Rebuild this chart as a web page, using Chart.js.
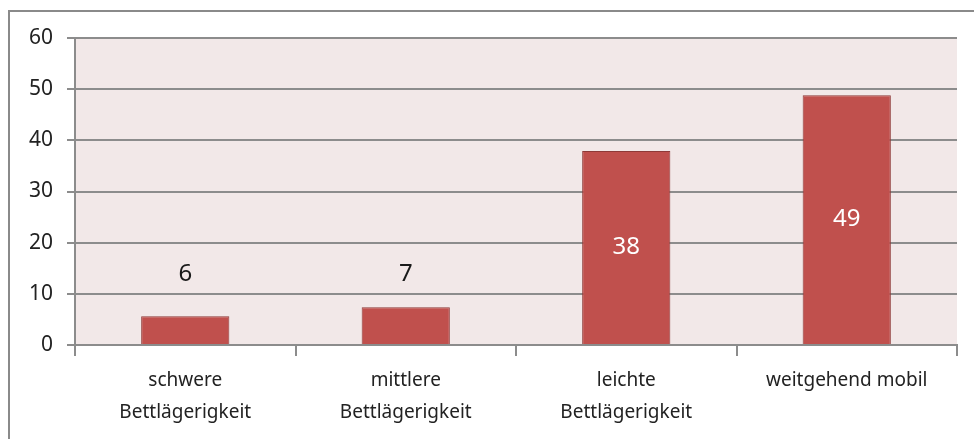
<!DOCTYPE html>
<html>
<head>
<meta charset="utf-8">
<script src="https://cdn.jsdelivr.net/npm/chart.js@4"></script>
<style>
  html, body { margin: 0; padding: 0; background: #fff; }
  .frame { position: absolute; left: 8px; top: 10px; width: 980px; height: 440px; border-left: 2px solid #8a8a8a; border-top: 2px solid #8a8a8a; }
  .box { position: absolute; left: 0; top: 0; width: 974px; height: 439px; }
</style>
</head>
<body>
<div class="frame"></div>
<div class="box"><canvas id="c" width="974" height="439"></canvas></div>
<script>
// Bettlägerigkeit — bar chart
const categories = [['schwere', 'Bettlägerigkeit'], ['mittlere', 'Bettlägerigkeit'], ['leichte', 'Bettlägerigkeit'], 'weitgehend mobil'];
const values = [5.6, 7.4, 37.9, 48.8];
const yTicks = [0, 10, 20, 30, 40, 50, 60];

const FONT = 'Noto Sans';
const GRID = '#8c8c8c';
const BAR = '#c0504d';

const plotBg = {
  id: 'plotBg',
  beforeDraw(chart) {
    const { ctx, chartArea: a } = chart;
    ctx.save();
    ctx.fillStyle = '#f2e8e8';
    ctx.fillRect(a.left, a.top, a.right - a.left, a.bottom - a.top);
    ctx.restore();
  },
};

// Small bars get the number above, tall bars get it centred in white.
const barLabels = {
  id: 'barLabels',
  afterDatasetsDraw(chart) {
    const { ctx } = chart;
    const meta = chart.getDatasetMeta(0);
    ctx.save();
    ctx.font = `24px "${FONT}"`;
    ctx.textAlign = 'center';
    ctx.textBaseline = 'middle';
    meta.data.forEach((bar, i) => {
      const v = values[i];
      const h = bar.base - bar.y;
      if (h > 60) {
        ctx.fillStyle = '#ffffff';
        ctx.fillText(Math.round(v), bar.x, (bar.y + bar.base) / 2);
      } else {
        ctx.fillStyle = '#1a1a1a';
        ctx.fillText(Math.round(v), bar.x, chart.scales.y.getPixelForValue(13.8));
      }
    });
    ctx.restore();
  },
};

new Chart(document.getElementById('c'), {
  type: 'bar',
  data: {
    labels: categories,
    datasets: [{
      data: values,
      backgroundColor: BAR,
      borderColor: '#8e3a38',
      borderWidth: 1,
      categoryPercentage: 1,
      barPercentage: 0.4,
    }],
  },
  options: {
    responsive: false,
    animation: false,
    events: [],
    layout: { padding: { top: 38, right: 17, left: 0, bottom: 0 } },
    plugins: { legend: { display: false }, tooltip: { enabled: false } },
    scales: {
      x: {
        afterFit(s) { s.height = 94; },
        grid: { offset: true, drawOnChartArea: false, drawTicks: true, tickLength: 11, color: GRID, lineWidth: 2 },
        border: { display: true, color: GRID, width: 2 },
        ticks: { color: '#222', font: { family: FONT, size: 19, lineHeight: 1.7 }, padding: 8, maxRotation: 0, autoSkip: false },
      },
      y: {
        min: 0,
        max: 60,
        afterFit(s) { s.width = 75; },
        afterBuildTicks(s) { s.ticks = yTicks.map(v => ({ value: v })); },
        grid: { color: GRID, lineWidth: 2, tickLength: 8 },
        border: { display: true, color: GRID, width: 2 },
        ticks: { color: '#222', font: { family: FONT, size: 21 }, padding: 14 },
      },
    },
  },
  plugins: [plotBg, barLabels],
});
</script>
</body>
</html>
